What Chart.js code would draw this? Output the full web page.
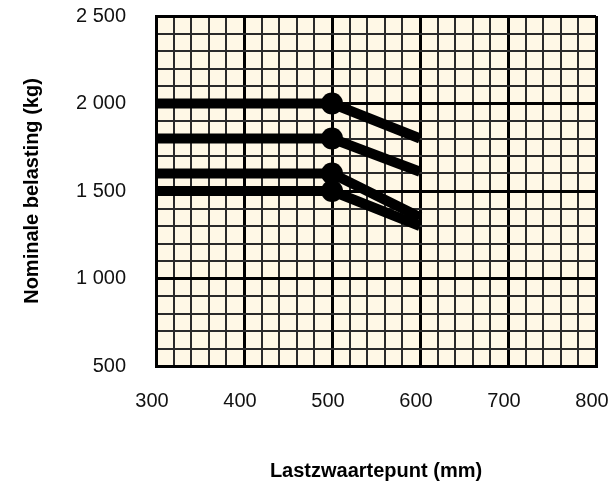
<!DOCTYPE html>
<html>
<head>
<meta charset="utf-8">
<script src="https://cdn.jsdelivr.net/npm/chart.js@4/dist/chart.umd.min.js"></script>
<style>
  body { margin: 0; background: #fff; }
  #wrap { width: 611px; height: 487px; }
</style>
</head>
<body>
<div id="wrap"><canvas id="grafiek"></canvas></div>
<script>
// Lastzwaartepunt (mm) op de x-as
var lastpunt = [300, 500, 600];

// Nominale belasting (kg) per curve
var curve1 = [2000, 2000, 1800];
var curve2 = [1800, 1800, 1610];
var curve3 = [1600, 1600, 1350];
var curve4 = [1500, 1500, 1300];

var xTicks = [300, 400, 500, 600, 700, 800];
var yTicks = [500, 1000, 1500, 2000, 2500];

function punten(waarden) {
    return lastpunt.map(function (x, i) { return { x: x, y: waarden[i] }; });
}

function formatKg(v) {
    if (v >= 1000) {
        return Math.floor(v / 1000) + ' ' + String(v % 1000).padStart(3, '0');
    }
    return String(v);
}

function lijn(waarden) {
    return {
        data: punten(waarden),
        borderColor: '#000',
        backgroundColor: '#000',
        borderWidth: 10,
        borderCapStyle: 'butt',
        pointRadius: [0, 11, 0],
        pointHoverRadius: [0, 11, 0],
        pointBorderWidth: 0,
        tension: 0
    };
}

// geen extra ruimte voor labels die buiten de as uitsteken
function zonderPadding(scale) {
    scale.paddingTop = 0;
    scale.paddingBottom = 0;
    scale.paddingLeft = 0;
    scale.paddingRight = 0;
}

// achtergrond van het plotgebied
var achtergrond = {
    id: 'achtergrond',
    beforeDraw: function (chart) {
        var a = chart.chartArea;
        var ctx = chart.ctx;
        ctx.save();
        ctx.fillStyle = '#FFF8E6';
        ctx.fillRect(a.left, a.top, a.right - a.left, a.bottom - a.top);
        ctx.restore();
    }
};

var font = { family: "'Liberation Sans', Arial, sans-serif", size: 20 };

new Chart(document.getElementById('grafiek'), {
    type: 'line',
    data: {
        datasets: [lijn(curve1), lijn(curve2), lijn(curve3), lijn(curve4)]
    },
    options: {
        responsive: true,
        maintainAspectRatio: false,
        animation: false,
        layout: { padding: { top: 16, right: 15, bottom: 0, left: 0 } },
        plugins: {
            legend: { display: false },
            tooltip: { enabled: false }
        },
        scales: {
            x: {
                type: 'linear',
                min: 300,
                max: 800,
                afterFit: function (scale) { scale.height = 121; zonderPadding(scale); },
                ticks: {
                    stepSize: 20,
                    autoSkip: false,
                    maxRotation: 0,
                    minRotation: 0,
                    padding: 23,
                    labelOffset: -4,
                    color: '#111',
                    font: font,
                    callback: function (v) { return xTicks.indexOf(v) >= 0 ? String(v) : ''; }
                },
                grid: {
                    drawTicks: false,
                    color: function (c) { return c.tick && c.tick.value % 100 === 0 ? '#000' : '#2a2a2a'; },
                    lineWidth: function (c) { return c.tick && c.tick.value % 100 === 0 ? 3 : 2; }
                },
                border: { color: '#000', width: 3 },
                title: {
                    display: true,
                    text: 'Lastzwaartepunt (mm)',
                    color: '#000',
                    padding: { top: 0, bottom: 4 },
                    font: { family: font.family, size: 20, weight: 'bold' }
                }
            },
            y: {
                type: 'linear',
                min: 500,
                max: 2500,
                afterFit: function (scale) { scale.width = 156; zonderPadding(scale); },
                ticks: {
                    stepSize: 100,
                    autoSkip: false,
                    padding: 30,
                    color: '#111',
                    font: font,
                    callback: function (v) { return yTicks.indexOf(v) >= 0 ? formatKg(v) : ''; }
                },
                grid: {
                    drawTicks: false,
                    color: function (c) { return c.tick && c.tick.value % 500 === 0 ? '#000' : '#2a2a2a'; },
                    lineWidth: function (c) { return c.tick && c.tick.value % 500 === 0 ? 3 : 2; }
                },
                border: { color: '#000', width: 3 },
                title: {
                    display: true,
                    text: 'Nominale belasting (kg)',
                    color: '#000',
                    padding: { top: 20, bottom: 0 },
                    font: { family: font.family, size: 20, weight: 'bold' }
                }
            }
        }
    },
    plugins: [achtergrond]
});
</script>
</body>
</html>
